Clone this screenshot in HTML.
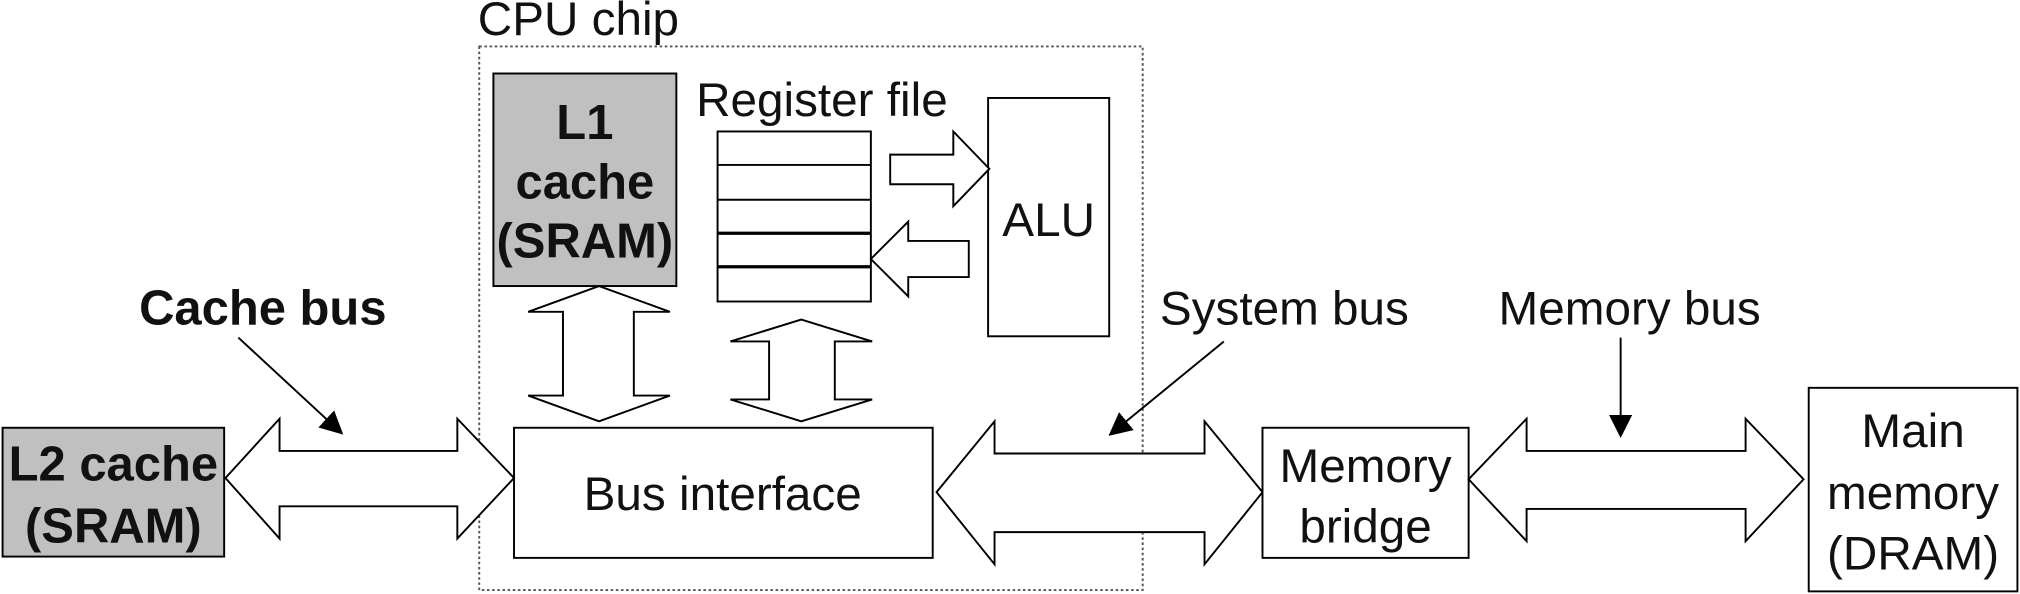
<!DOCTYPE html>
<html><head><meta charset="utf-8"><style>
html,body{margin:0;padding:0;background:#fff;}
svg{display:block;}
text{font-family:"Liberation Sans",Arial,sans-serif;fill:#111;}
</style></head><body>
<svg width="2020" height="594" viewBox="0 0 1568 461" xmlns="http://www.w3.org/2000/svg">
<defs>
<marker id="ah2" markerWidth="18" markerHeight="18" refX="16" refY="9" orient="auto" markerUnits="userSpaceOnUse" viewBox="0 0 18 18"><path d="M0,0 L18,9 L0,18 z" fill="#000"/></marker></defs>
<g stroke="#000" stroke-width="1.5" fill="#fff">
<rect x="372" y="36" width="515" height="422" fill="none" stroke="#555" stroke-dasharray="2,2"/>
<rect x="383" y="57" width="142" height="165" fill="#c0c0c0"/>
<rect x="557" y="102" width="119" height="132"/>
<line x1="557" y1="128" x2="676" y2="128"/>
<line x1="557" y1="155" x2="676" y2="155"/>
<line x1="557" y1="181" x2="676" y2="181" stroke-width="2.5"/>
<line x1="557" y1="207" x2="676" y2="207" stroke-width="2.5"/>
<rect x="767" y="76" width="94" height="185"/>
<path d="M691,120 L740,120 L740,102 L768,131 L740,160 L740,143 L691,143 Z"/>
<path d="M752,187 L705,187 L705,172 L676,201 L705,230 L705,215 L752,215 Z"/>
<path d="M465,222 L520,242 L492,242 L492,307 L520,307 L465,327 L410,307 L437,307 L437,242 L410,242 Z"/>
<path d="M622,248 L677,265 L648,265 L648,310 L677,310 L622,327 L567,310 L597,310 L597,265 L567,265 Z"/>
<rect x="399" y="332" width="325" height="101"/>
<rect x="2" y="332" width="172" height="100" fill="#c0c0c0"/>
<path d="M175,371 L217,325 L217,350 L355,350 L355,325 L399,371 L355,418 L355,393 L217,393 L217,418 Z"/>
<path d="M727,382 L772,327 L772,352 L935,352 L935,327 L980,382 L935,438 L935,413 L772,413 L772,438 Z"/>
<rect x="980" y="332" width="160" height="101"/>
<path d="M1140,372 L1185,325 L1185,350 L1355,350 L1355,325 L1400,372 L1355,420 L1355,395 L1185,395 L1185,420 Z"/>
<rect x="1404" y="301" width="162" height="158"/>
</g>
<g stroke="#000" stroke-width="1.5">
<line x1="185" y1="262" x2="265" y2="336" marker-end="url(#ah2)"/>
<line x1="950" y1="265" x2="862" y2="337" marker-end="url(#ah2)"/>
<line x1="1258" y1="262" x2="1258" y2="338" marker-end="url(#ah2)"/>
</g>
<g font-size="37" text-anchor="middle">
<text x="449" y="27">CPU chip</text>
<text x="638" y="90">Register file</text>
<text x="814" y="183">ALU</text>
<text x="561" y="396">Bus interface</text>
<text x="997" y="252">System bus</text>
<text x="1265" y="252">Memory bus</text>
<text x="1060" y="374">Memory</text>
<text x="1060" y="421">bridge</text>
<text x="1485" y="347">Main</text>
<text x="1485" y="395">memory</text>
<text x="1485" y="442">(DRAM)</text>
</g>
<g font-size="38" font-weight="bold" text-anchor="middle">
<text x="454" y="108">L1</text>
<text x="454" y="154">cache</text>
<text x="454" y="200">(SRAM)</text>
<text x="88" y="373">L2 cache</text>
<text x="88" y="421">(SRAM)</text>
<text x="204" y="252">Cache bus</text>
</g>
</svg>
</body></html>
